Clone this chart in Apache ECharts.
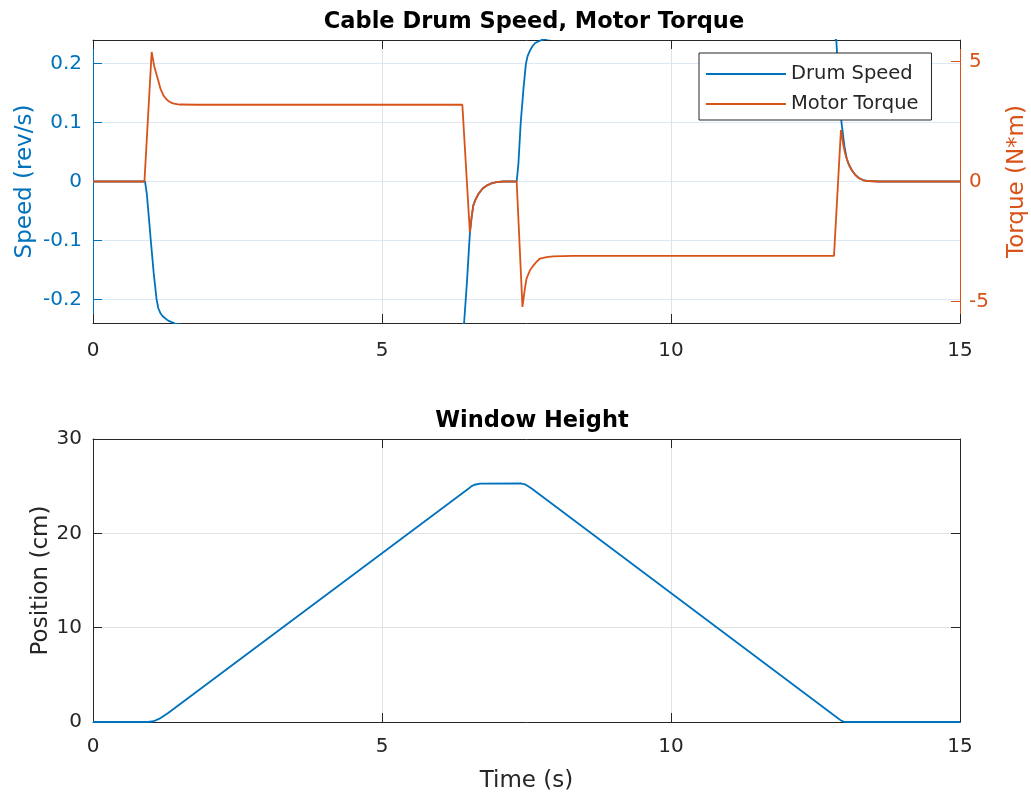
<!DOCTYPE html>
<html>
<head>
<meta charset="utf-8">
<script src="https://cdn.jsdelivr.net/npm/echarts@6/dist/echarts.min.js"></script>
<style>
  html, body { margin: 0; padding: 0; background: #fff; }
  #chart { width: 1031px; height: 798px; }
</style>
</head>
<body>
<div id="chart"></div>
<script>
// drum speed (rev/s), left axis
const speedTime = [0, 0.9, 0.93, 0.97, 1.0, 1.05, 1.1, 1.13, 1.17, 1.21, 1.3, 1.42, 1.6, 2.0,
  6.38, 6.42, 6.47, 6.52, 6.55, 6.58, 6.62, 6.67, 6.74, 6.81, 6.9, 6.98, 7.1, 7.33,
  7.36, 7.4, 7.45, 7.49, 7.52, 7.56, 7.6, 7.65, 7.76, 7.9, 8.2,
  12.82, 12.86, 12.9, 12.95, 13.0, 13.04, 13.08, 13.13, 13.19, 13.25, 13.32, 13.39, 13.6, 15];
const speedVal = [0, 0, -0.02, -0.065, -0.1, -0.155, -0.2, -0.215, -0.224, -0.229, -0.236, -0.241, -0.244, -0.245,
  -0.245, -0.24, -0.17, -0.088, -0.061, -0.04, -0.03, -0.021, -0.012, -0.007, -0.003, -0.001, 0, 0,
  0.03, 0.1, 0.16, 0.2, 0.213, 0.222, 0.229, 0.235, 0.24, 0.243, 0.245,
  0.245, 0.24, 0.17, 0.1, 0.06, 0.039, 0.028, 0.019, 0.011, 0.006, 0.0025, 0.001, 0, 0];

// motor torque (N*m), right axis
const torqueTime = [0, 0.89, 1.015, 1.06, 1.12, 1.17, 1.22, 1.27, 1.33, 1.4, 1.5, 1.8,
  6.39, 6.52, 6.55, 6.58, 6.62, 6.67, 6.74, 6.81, 6.9, 6.98, 7.1, 7.33,
  7.43, 7.47, 7.5, 7.56, 7.62, 7.68, 7.73, 7.85, 7.96, 8.3,
  12.82, 12.94, 12.98, 13.01, 13.04, 13.08, 13.13, 13.19, 13.25, 13.32, 13.39, 13.6, 15];
const torqueVal = [0, 0, 5.4, 4.8, 4.28, 3.85, 3.58, 3.43, 3.31, 3.25, 3.21, 3.2,
  3.2, -2.11, -1.5, -1.0, -0.75, -0.51, -0.3, -0.17, -0.07, -0.03, 0, 0,
  -5.23, -4.5, -4.05, -3.7, -3.5, -3.33, -3.22, -3.15, -3.12, -3.1,
  -3.1, 2.15, 1.55, 1.2, 0.95, 0.68, 0.46, 0.27, 0.14, 0.06, 0.02, 0, 0];

// window height (cm), lower plot
const heightTime = [0, 0.95, 1.05, 1.15, 1.3, 6.5, 6.55, 6.6, 6.7, 7.4, 7.47, 7.53, 7.6, 12.9, 12.95, 13.0, 13.1, 15];
const heightVal = [0, 0, 0.08, 0.35, 0.95, 24.75, 25.0, 25.15, 25.28, 25.3, 25.2, 25.0, 24.7, 0.35, 0.12, 0.02, 0, 0];

const speedTicks = [-0.2, -0.1, 0, 0.1, 0.2];
const torqueTicks = [-5, 0, 5];

const BLUE = '#0072BD';
const ORANGE = '#D95319';
const DARK = '#262626';
const FONT = 'DejaVu Sans';

const pairs = (xs, ys) => xs.map((x, i) => [x, ys[i]]);

const chart = echarts.init(document.getElementById('chart'), null, { renderer: 'canvas' });

const xBase = (grid, name, labelMargin) => ({
  type: 'value',
  gridIndex: grid,
  min: 0,
  max: 15,
  interval: 5,
  name: name,
  nameLocation: 'middle',
  nameGap: 48,
  nameMoveOverlap: false,
  nameTextStyle: { fontSize: 23, color: DARK, fontFamily: FONT },
  axisLine: { show: true, onZero: false, lineStyle: { color: DARK, width: 1 } },
  axisTick: { show: true, inside: true, length: 9, lineStyle: { color: DARK } },
  axisLabel: { margin: labelMargin, fontSize: 20, color: DARK, fontFamily: FONT },
  splitLine: { show: true, lineStyle: { color: '#e2e2e2', width: 1 } },
});

const xTop = (grid) => ({
  type: 'value',
  gridIndex: grid,
  position: 'top',
  min: 0,
  max: 15,
  interval: 5,
  axisLine: { show: true, onZero: false, lineStyle: { color: DARK, width: 1 } },
  axisTick: { show: true, inside: true, length: 9, lineStyle: { color: DARK } },
  axisLabel: { show: false },
  splitLine: { show: false },
});

const lineSeries = (name, xi, yi, data, color) => ({
  name: name, type: 'line', xAxisIndex: xi, yAxisIndex: yi,
  data: data,
  symbol: 'none', showSymbol: false, clip: true,
  lineStyle: { color: color, width: 1.8 }, itemStyle: { color: color },
});

const option = {
  animation: false,
  backgroundColor: '#fff',
  title: [
    {
      text: 'Cable Drum Speed, Motor Torque',
      left: 529, top: 6, textAlign: 'center',
      textStyle: { fontSize: 22.5, fontWeight: 'bold', color: '#000', fontFamily: FONT },
    },
    {
      text: 'Window Height',
      left: 527, top: 405, textAlign: 'center',
      textStyle: { fontSize: 22.5, fontWeight: 'bold', color: '#000', fontFamily: FONT },
    },
  ],
  legend: {
    data: ['Drum Speed', 'Motor Torque'],
    orient: 'vertical',
    left: 699,
    top: 53,
    icon: 'rect',
    itemWidth: 80,
    itemHeight: 2,
    itemGap: 10,
    padding: [11, 13, 6, 7],
    borderColor: DARK,
    borderWidth: 1,
    borderRadius: 0,
    backgroundColor: '#fff',
    textStyle: { fontSize: 19.5, color: DARK, fontFamily: FONT },
  },
  grid: [
    { left: 93, top: 40, width: 867, height: 283, outerBoundsMode: 'none' },
    { left: 93, top: 439, width: 867, height: 283, outerBoundsMode: 'none' },
  ],
  xAxis: [
    xBase(0, '', 18),
    xTop(0),
    xBase(1, 'Time (s)', 15),
    xTop(1),
  ],
  yAxis: [
    {
      type: 'value', gridIndex: 0, position: 'left',
      min: -0.24, max: 0.24,
      name: 'Speed (rev/s)', nameLocation: 'middle', nameGap: 56, nameMoveOverlap: false,
      nameTextStyle: { fontSize: 23, color: BLUE, fontFamily: FONT },
      axisLine: { show: true, onZero: false, lineStyle: { color: BLUE, width: 1 } },
      axisTick: { show: true, inside: true, length: 9, customValues: speedTicks, lineStyle: { color: BLUE } },
      axisLabel: { margin: 11, fontSize: 20, color: BLUE, fontFamily: FONT, customValues: speedTicks },
      splitLine: { show: true, lineStyle: { color: '#dce9f5', width: 1 } },
    },
    {
      type: 'value', gridIndex: 0, position: 'right',
      min: -5.9, max: 5.9,
      name: 'Torque (N*m)', nameLocation: 'middle', nameGap: 46, nameMoveOverlap: false,
      nameTextStyle: { fontSize: 23, color: ORANGE, fontFamily: FONT },
      axisLine: { show: true, onZero: false, lineStyle: { color: ORANGE, width: 1 } },
      axisTick: { show: true, inside: true, length: 9, customValues: torqueTicks, lineStyle: { color: ORANGE } },
      axisLabel: { margin: 9, fontSize: 20, color: ORANGE, fontFamily: FONT, customValues: torqueTicks },
      splitLine: { show: false },
    },
    {
      type: 'value', gridIndex: 1, position: 'left',
      min: 0, max: 30, interval: 10,
      name: 'Position (cm)', nameLocation: 'middle', nameGap: 40, nameMoveOverlap: false,
      nameTextStyle: { fontSize: 23, color: DARK, fontFamily: FONT },
      axisLine: { show: true, onZero: false, lineStyle: { color: DARK, width: 1 } },
      axisTick: { show: true, inside: true, length: 9, lineStyle: { color: DARK } },
      axisLabel: { margin: 11, fontSize: 20, color: DARK, fontFamily: FONT },
      splitLine: { show: true, lineStyle: { color: '#e2e2e2', width: 1 } },
    },
    {
      type: 'value', gridIndex: 1, position: 'right',
      min: 0, max: 30, interval: 10,
      axisLine: { show: true, onZero: false, lineStyle: { color: DARK, width: 1 } },
      axisTick: { show: true, inside: true, length: 9, lineStyle: { color: DARK } },
      axisLabel: { show: false },
      splitLine: { show: false },
    },
  ],
  series: [
    lineSeries('Drum Speed', 0, 0, pairs(speedTime, speedVal), BLUE),
    lineSeries('Motor Torque', 0, 1, pairs(torqueTime, torqueVal), ORANGE),
    lineSeries('Window Height', 2, 2, pairs(heightTime, heightVal), BLUE),
  ],
};

chart.setOption(option);
</script>
</body>
</html>
